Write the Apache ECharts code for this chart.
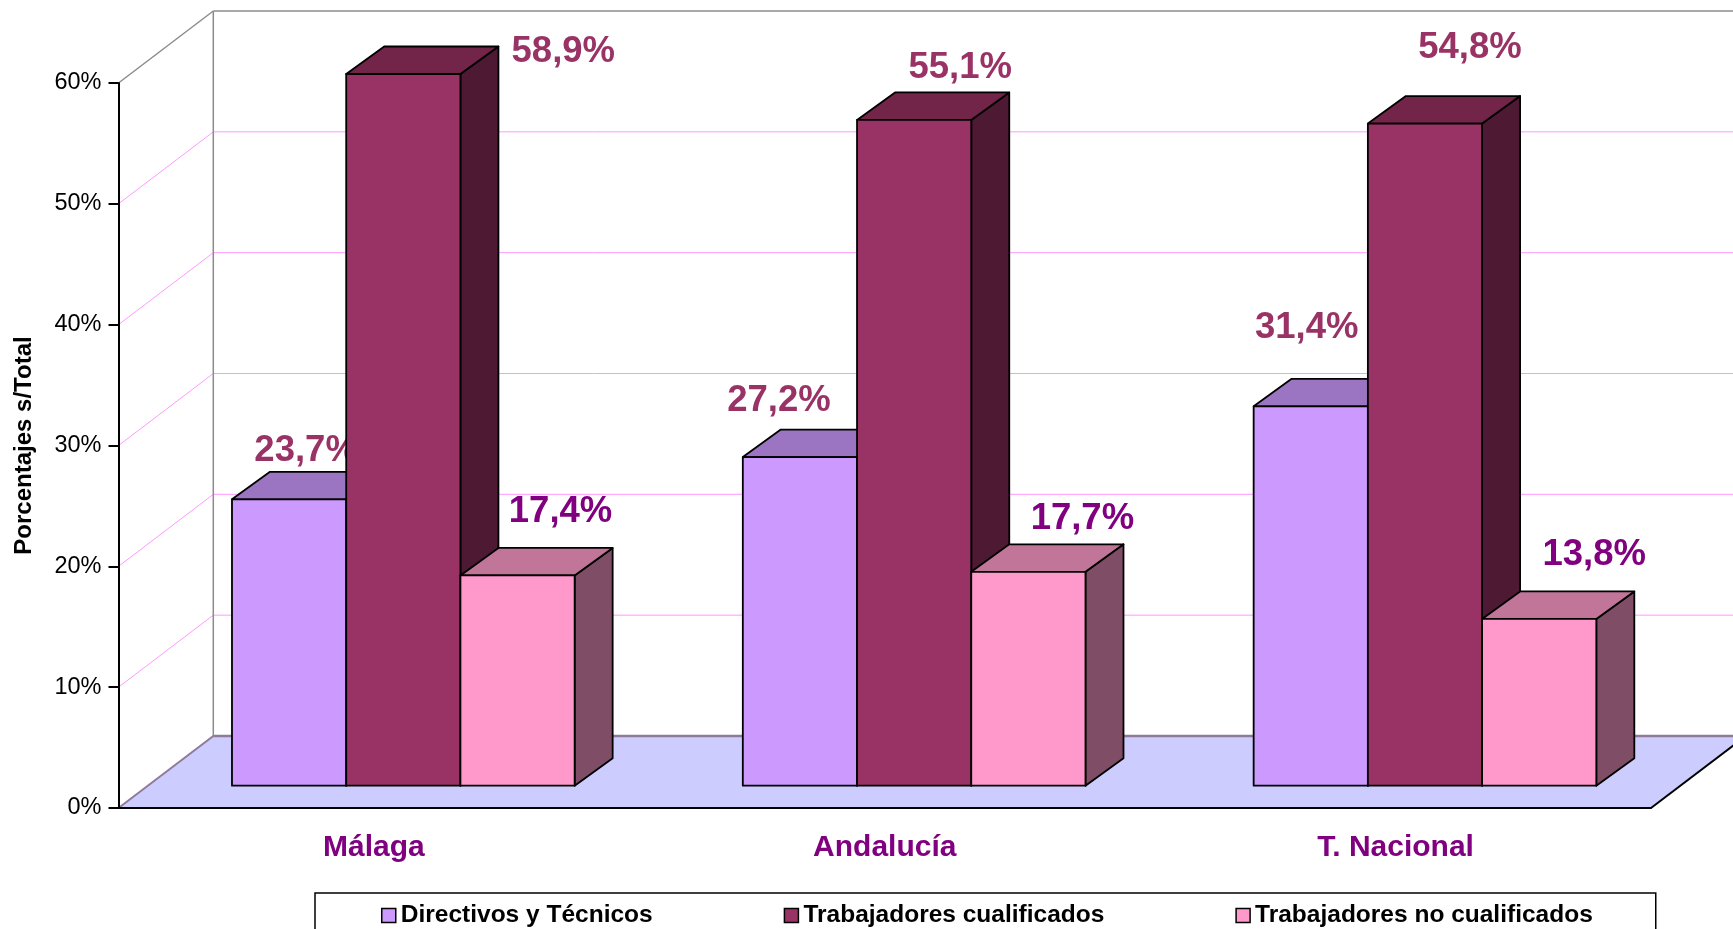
<!DOCTYPE html>
<html>
<head>
<meta charset="utf-8">
<script src="https://cdn.jsdelivr.net/npm/echarts@6/dist/echarts.min.js"></script>
<style>
html,body{margin:0;padding:0;background:#fff;}
#chart{width:1733px;height:929px;}
</style>
</head>
<body>
<div id="chart"></div>
<script>
// ---- data ----
const categories = ['Málaga', 'Andalucía', 'T. Nacional'];
const seriesNames = ['Directivos y Técnicos', 'Trabajadores cualificados', 'Trabajadores no cualificados'];
const directivos = [23.7, 27.2, 31.4];
const cualificados = [58.9, 55.1, 54.8];
const noCualificados = [17.4, 17.7, 13.8];
const yTicks = [0, 10, 20, 30, 40, 50, 60];

// ---- style / geometry (pixels) ----
const FONT = "'Liberation Sans', Arial, sans-serif";
const WALL_DX = 94.8, WALL_DY = -72;     // depth of the floor / side wall
const FRONT_DX = 29.4, FRONT_DY = -22.3; // bars' front plane inside the floor
const BAR_DX = 38, BAR_DY = -27.5;       // bar depth
const BAR_RATIO = 0.2236;                // bar width / category band
const palettes = [
  {front: '#CC99FF', top: '#9B75C1', side: '#7A5C99', label: '#993366'},
  {front: '#993366', top: '#722449', side: '#4D1933', label: '#993366'},
  {front: '#FF99CC', top: '#C07599', side: '#804D66', label: '#800080'}
];
// label nudges relative to the centre of each bar's top face
const labelNudge = [
  [[-2, -35], [-40, -42], [-23, -65]],
  [[141, -8], [27, -38], [26, -62]],
  [[24, -50], [35, -39], [36, -50]]
];

function fmt(v) { return v.toFixed(1).replace('.', ',') + '%'; }

function frameRender(params, api) {
  const v = api.value(1);
  const p = api.coord([0, v]);
  const band = api.size([1, 0])[0];
  const xl = p[0] - band / 2;
  const xr = api.coord([categories.length - 1, v])[0] + band / 2;
  const y = p[1];
  const children = [];
  const pink = '#FF99FF', gray = '#8C8C8C', mauve = '#8F7A99';
  if (v === 0) {
    children.push({type: 'polygon', shape: {points: [[xl, y], [xr, y], [xr + WALL_DX, y + WALL_DY], [xl + WALL_DX, y + WALL_DY]]},
      style: {fill: '#CCCCFF', stroke: null}});
    children.push({type: 'line', shape: {x1: xl + WALL_DX, y1: y + WALL_DY, x2: xr + WALL_DX + 60, y2: y + WALL_DY},
      style: {stroke: mauve, lineWidth: 2.5}});
    children.push({type: 'line', shape: {x1: xl, y1: y, x2: xl + WALL_DX, y2: y + WALL_DY},
      style: {stroke: mauve, lineWidth: 2}});
    children.push({type: 'line', shape: {x1: xr, y1: y, x2: xr + WALL_DX, y2: y + WALL_DY},
      style: {stroke: '#000', lineWidth: 2}});
  } else {
    const top = v === yTicks[yTicks.length - 1];
    const c = top ? gray : pink;
    children.push({type: 'line', shape: {x1: xl, y1: y, x2: xl + WALL_DX, y2: y + WALL_DY},
      style: {stroke: c, lineWidth: top ? 1.5 : 1}});
    children.push({type: 'line', shape: {x1: xl + WALL_DX, y1: y + WALL_DY, x2: xr + WALL_DX + 60, y2: y + WALL_DY},
      style: {stroke: c, lineWidth: top ? 1.5 : 1}});
    if (top) {
      const y0 = api.coord([0, 0])[1];
      children.push({type: 'line', shape: {x1: xl + WALL_DX, y1: y + WALL_DY, x2: xl + WALL_DX, y2: y0 + WALL_DY},
        style: {stroke: gray, lineWidth: 1.5}});
    }
  }
  return {type: 'group', children: children};
}

function makeBarRender(s) {
  const pal = palettes[s];
  return function (params, api) {
    const i = api.value(0);
    const val = api.value(1);
    const base = api.coord([i, 0]);
    const topP = api.coord([i, val]);
    const band = api.size([1, 0])[0];
    const bw = band * BAR_RATIO;
    const xl = base[0] - 1.5 * bw + s * bw + FRONT_DX;
    const xr = xl + bw;
    const by = base[1] + FRONT_DY;
    const ty = topP[1] + FRONT_DY;
    const st = {stroke: '#000', lineWidth: 1.8, lineJoin: 'round'};
    const nudge = labelNudge[s][i];
    return {type: 'group', children: [
      {type: 'polygon', shape: {points: [[xr, ty], [xr + BAR_DX, ty + BAR_DY], [xr + BAR_DX, by + BAR_DY], [xr, by]]},
        style: Object.assign({fill: pal.side}, st)},
      {type: 'polygon', shape: {points: [[xl, ty], [xr, ty], [xr + BAR_DX, ty + BAR_DY], [xl + BAR_DX, ty + BAR_DY]]},
        style: Object.assign({fill: pal.top}, st)},
      {type: 'polygon', shape: {points: [[xl, ty], [xr, ty], [xr, by], [xl, by]]},
        style: Object.assign({fill: pal.front}, st)},
      {type: 'text', style: {
        x: (xl + xr) / 2 + BAR_DX / 2 + nudge[0], y: ty + BAR_DY / 2 + nudge[1],
        text: fmt(val), fill: pal.label, fontSize: 36.5, fontWeight: 'bold', fontFamily: FONT,
        align: 'center', verticalAlign: 'middle'}}
    ]};
  };
}

const seriesValues = [directivos, cualificados, noCualificados];

const option = {
  animation: false,
  textStyle: {fontFamily: FONT},
  grid: {left: 118.5, right: 82, top: 83, bottom: 121},
  legend: {
    data: seriesNames,
    left: 315, top: 893,
    icon: 'rect', itemWidth: 14, itemHeight: 14, itemGap: 131,
    padding: [10, 63, 40, 66],
    borderColor: '#000', borderWidth: 1.5,
    itemStyle: {borderColor: '#000', borderWidth: 1.5},
    textStyle: {fontSize: 24.5, fontWeight: 'bold', color: '#000', fontFamily: FONT}
  },
  xAxis: {
    type: 'category', data: categories, z: 5,
    axisLine: {lineStyle: {color: '#000', width: 2}},
    axisTick: {length: 10, lineStyle: {color: '#000', width: 2}},
    axisLabel: {color: '#800080', fontSize: 30, fontWeight: 'bold', margin: 25, fontFamily: FONT},
    splitLine: {show: false}
  },
  yAxis: {
    type: 'value', min: 0, max: 60, interval: 10, z: 5,
    name: 'Porcentajes s/Total', nameLocation: 'middle', nameRotate: 90, nameGap: 82,
    nameTextStyle: {fontSize: 24, fontWeight: 'bold', color: '#000', fontFamily: FONT},
    axisLine: {show: true, lineStyle: {color: '#000', width: 2}},
    axisTick: {show: true, length: 10, lineStyle: {color: '#000', width: 2}},
    axisLabel: {formatter: '{value}%', fontSize: 23.5, color: '#000', margin: 17, fontFamily: FONT},
    splitLine: {show: false}
  },
  series: [
    {type: 'custom', name: '_frame', z: 1, clip: false, silent: true,
      renderItem: frameRender, encode: {x: 0, y: 1},
      data: yTicks.map(v => [0, v])}
  ].concat(seriesNames.map((n, s) => ({
    type: 'custom', name: n, z: 2 + s, clip: false,
    itemStyle: {color: palettes[s].front},
    renderItem: makeBarRender(s), encode: {x: 0, y: 1},
    data: categories.map((c, i) => [i, seriesValues[s][i]])
  })))
};

const chart = echarts.init(document.getElementById('chart'), null, {renderer: 'canvas'});
chart.setOption(option);
</script>
</body>
</html>
